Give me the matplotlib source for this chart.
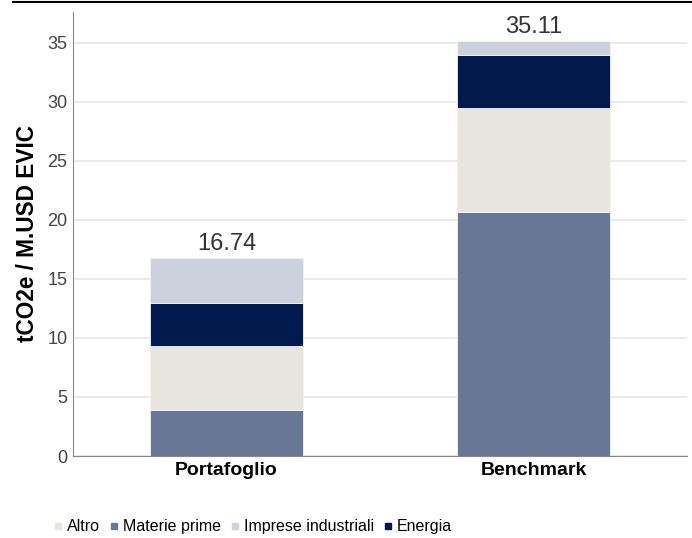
import matplotlib
matplotlib.use('Agg')
import matplotlib.pyplot as plt
from matplotlib.lines import Line2D
import numpy as np

# データ
categories = ['Portafoglio', 'Benchmark']
materie_prime = [3.9, 20.65]
altro = [5.45, 8.85]
energia = [3.6, 4.45]
imprese_industriali = [3.79, 1.16]
totals = [16.74, 35.11]

series_names = ['Altro', 'Materie prime', 'Imprese industriali', 'Energia']
colors = {
    'Altro': '#e8e5df',
    'Materie prime': '#687795',
    'Imprese industriali': '#cdd1dd',
    'Energia': '#001a4e',
}

plt.rcParams['font.family'] = ['Liberation Sans', 'DejaVu Sans']

fig = plt.figure(figsize=(6.92, 5.38), dpi=100)
ax = fig.add_axes([0.1055, 0.1524, 0.8875, 0.8256])

x = np.arange(len(categories))
width = 0.5
bottom = np.zeros(len(categories))
# 下から積み上げ
for name, vals in [('Materie prime', materie_prime), ('Altro', altro),
                   ('Energia', energia), ('Imprese industriali', imprese_industriali)]:
    ax.bar(x, vals, width, bottom=bottom, color=colors[name],
           edgecolor='#f4f4f4', linewidth=0.6, zorder=3)
    bottom += np.array(vals)

for xi, t in zip(x, totals):
    ax.text(xi, t + 0.3, f'{t:.2f}', ha='center', va='bottom',
            fontsize=17, color='#333333')

ax.set_xlim(-0.5, 1.5)
ax.set_ylim(0, 37.6)
ax.set_yticks(range(0, 36, 5))
ax.set_xticks(x)
ax.set_xticklabels(categories, fontsize=14, fontweight='bold')
ax.tick_params(axis='y', labelsize=13, labelcolor='#444444', length=0, pad=4)
ax.tick_params(axis='x', length=0, pad=4)
ax.grid(axis='y', color='#e6e6e6', linewidth=1.2, zorder=0)
ax.set_axisbelow(True)
for s in ['top', 'right']:
    ax.spines[s].set_visible(False)
ax.spines['left'].set_color('#888888')
ax.spines['bottom'].set_color('#888888')

ax.set_ylabel('tCO2e / M.USD EVIC', fontsize=16.3, fontweight='bold',
              labelpad=6)

# 上部の黒線
fig.add_artist(Line2D([0.019, 1.0], [0.997, 0.997], color='black',
                      linewidth=1.5, transform=fig.transFigure))

handles = [Line2D([], [], marker='s', linestyle='', markersize=4,
                  color=colors[n]) for n in series_names]
fig.legend(handles, series_names, loc='center left', ncol=4,
           bbox_to_anchor=(0.058, 0.021), frameon=False,
           prop={'size': 11.5},
           handlelength=0.4, handletextpad=0.35, columnspacing=0.7)

fig.savefig('out.png', dpi=100)
